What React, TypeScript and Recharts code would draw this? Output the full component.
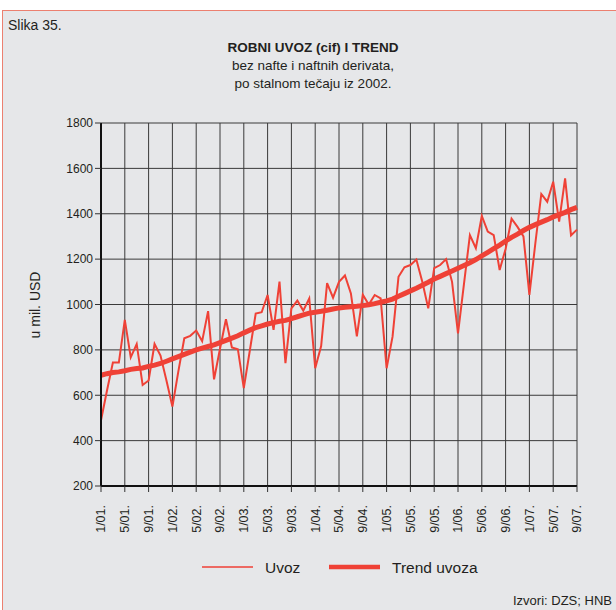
import { LineChart, Line, XAxis, YAxis, CartesianGrid, Legend } from 'recharts';

// month labels 1/01. .. 9/07.
const months: string[] = [];
for (let yr = 1; yr <= 7; yr++) {
  for (let m = 1; m <= 12; m++) {
    if (yr === 7 && m > 9) break;
    months.push(`${m}/0${yr}.`);
  }
}

const uvoz = [
  490, 620, 744, 744, 932, 767, 826, 645, 665, 826, 775, 665,
  550, 705, 851, 862, 885, 838, 971, 670, 805, 935, 811, 803,
  631, 795, 960, 966, 1042, 888, 1101, 741, 983, 1017, 973, 1027,
  719, 817, 1094, 1030, 1100, 1128, 1049, 860, 1043, 1000, 1042, 1027,
  719, 858, 1122, 1164, 1174, 1198, 1100, 983, 1160, 1174, 1200, 1100,
  873, 1090, 1306, 1248, 1390, 1321, 1306, 1152, 1245, 1378, 1342, 1300,
  1042, 1270, 1487, 1453, 1541, 1365, 1556, 1305, 1330,
];

const trend = [
  688, 695, 700, 703, 708, 714, 718, 720, 727, 733, 740, 750,
  760, 770, 780, 790, 800, 808, 815, 822, 832, 842, 852, 862,
  875, 887, 898, 906, 914, 920, 926, 930, 938, 946, 954, 962,
  966, 970, 975, 980, 985, 988, 990, 992, 995, 999, 1004, 1010,
  1016, 1024, 1036, 1048, 1060, 1072, 1085, 1098, 1112, 1124, 1136, 1148,
  1160, 1172, 1184, 1198, 1214, 1230, 1246, 1262, 1280, 1296, 1310, 1326,
  1340, 1352, 1363, 1374, 1386, 1396, 1406, 1418, 1428,
];

const yTicks = [200, 400, 600, 800, 1000, 1200, 1400, 1600, 1800];

const data = months.map((month, i) => ({ month, uvoz: uvoz[i], trend: trend[i] }));

const RED = '#ef4136';
const TEXT = '#231f20';
const FONT = '"Liberation Sans", Arial, sans-serif';

const XTick = ({ x, y, payload }: any) => (
  <text
    x={x}
    y={y + 11}
    dy="0.35em"
    transform={`rotate(-90, ${x}, ${y + 11})`}
    textAnchor="end"
    fontSize={12.5}
    fill={TEXT}
    fontFamily={FONT}
  >
    {payload.value}
  </text>
);

const LegendContent = () => (
  <svg width={616} height={30}>
    <line x1={202} y1={12} x2={253} y2={12} stroke={RED} strokeWidth={1.5} />
    <text x={265} y={17.5} fontSize={15.5} fill={TEXT} fontFamily={FONT}>Uvoz</text>
    <line x1={329} y1={12} x2={380} y2={12} stroke={RED} strokeWidth={4.5} />
    <text x={392} y={17.5} fontSize={15.5} fill={TEXT} fontFamily={FONT}>Trend uvoza</text>
  </svg>
);

export default function App() {
  return (
    <div style={{ position: 'absolute', left: 0, top: 0, width: 616, height: 610, overflow: 'hidden', background: '#fff', fontFamily: FONT }}>
      <div
        style={{
          position: 'absolute',
          left: 2,
          top: 10,
          width: 640,
          height: 640,
          border: '1.5px solid #ec8070',
          background: '#e6e7e9',
        }}
      />
      <div style={{ position: 'absolute', left: 8, top: 17, fontSize: 14, color: TEXT }}>Slika 35.</div>
      <div style={{ position: 'absolute', left: 0, top: 39, width: 626, textAlign: 'center', fontSize: 13.5, lineHeight: '18px', color: TEXT }}>
        <div style={{ fontWeight: 'bold' }}>ROBNI UVOZ (cif) I TREND</div>
        <div>bez nafte i naftnih derivata,</div>
        <div>po stalnom tečaju iz 2002.</div>
      </div>
      <div
        style={{
          position: 'absolute',
          left: 35,
          top: 305,
          transform: 'translate(-50%, -50%) rotate(-90deg)',
          fontSize: 14,
          color: TEXT,
          whiteSpace: 'nowrap',
        }}
      >
        u mil. USD
      </div>
      <div style={{ position: 'absolute', left: 513, top: 593, fontSize: 13, color: TEXT, whiteSpace: 'nowrap' }}>
        Izvori: DZS; HNB
      </div>
      <div style={{ position: 'absolute', left: 0, top: 0 }}>
        <LineChart width={616} height={610} data={data} margin={{ top: 123, right: 39, bottom: 84, left: 40 }}>
          <CartesianGrid stroke="#3a3a3a" strokeWidth={1} />
          <XAxis
            dataKey="month"
            interval={3}
            height={40}
            tickSize={6}
            tick={<XTick />}
            axisLine={{ stroke: '#111', strokeWidth: 2 }}
            tickLine={{ stroke: '#333' }}
          />
          <YAxis
            type="number"
            domain={[200, 1800]}
            ticks={yTicks}
            width={61}
            tickSize={6}
            tick={{ fontSize: 12, fill: TEXT, fontFamily: FONT }}
            axisLine={{ stroke: '#111', strokeWidth: 2 }}
            tickLine={{ stroke: '#333' }}
            allowDataOverflow
          />
          <Legend
            layout="horizontal"
            verticalAlign="middle"
            align="center"
            wrapperStyle={{ top: 555, left: 0, width: 616 }}
            content={<LegendContent />}
          />
          <Line dataKey="uvoz" stroke={RED} strokeWidth={2} dot={false} isAnimationActive={false} />
          <Line dataKey="trend" stroke={RED} strokeWidth={5} dot={false} isAnimationActive={false} />
        </LineChart>
      </div>
    </div>
  );
}
